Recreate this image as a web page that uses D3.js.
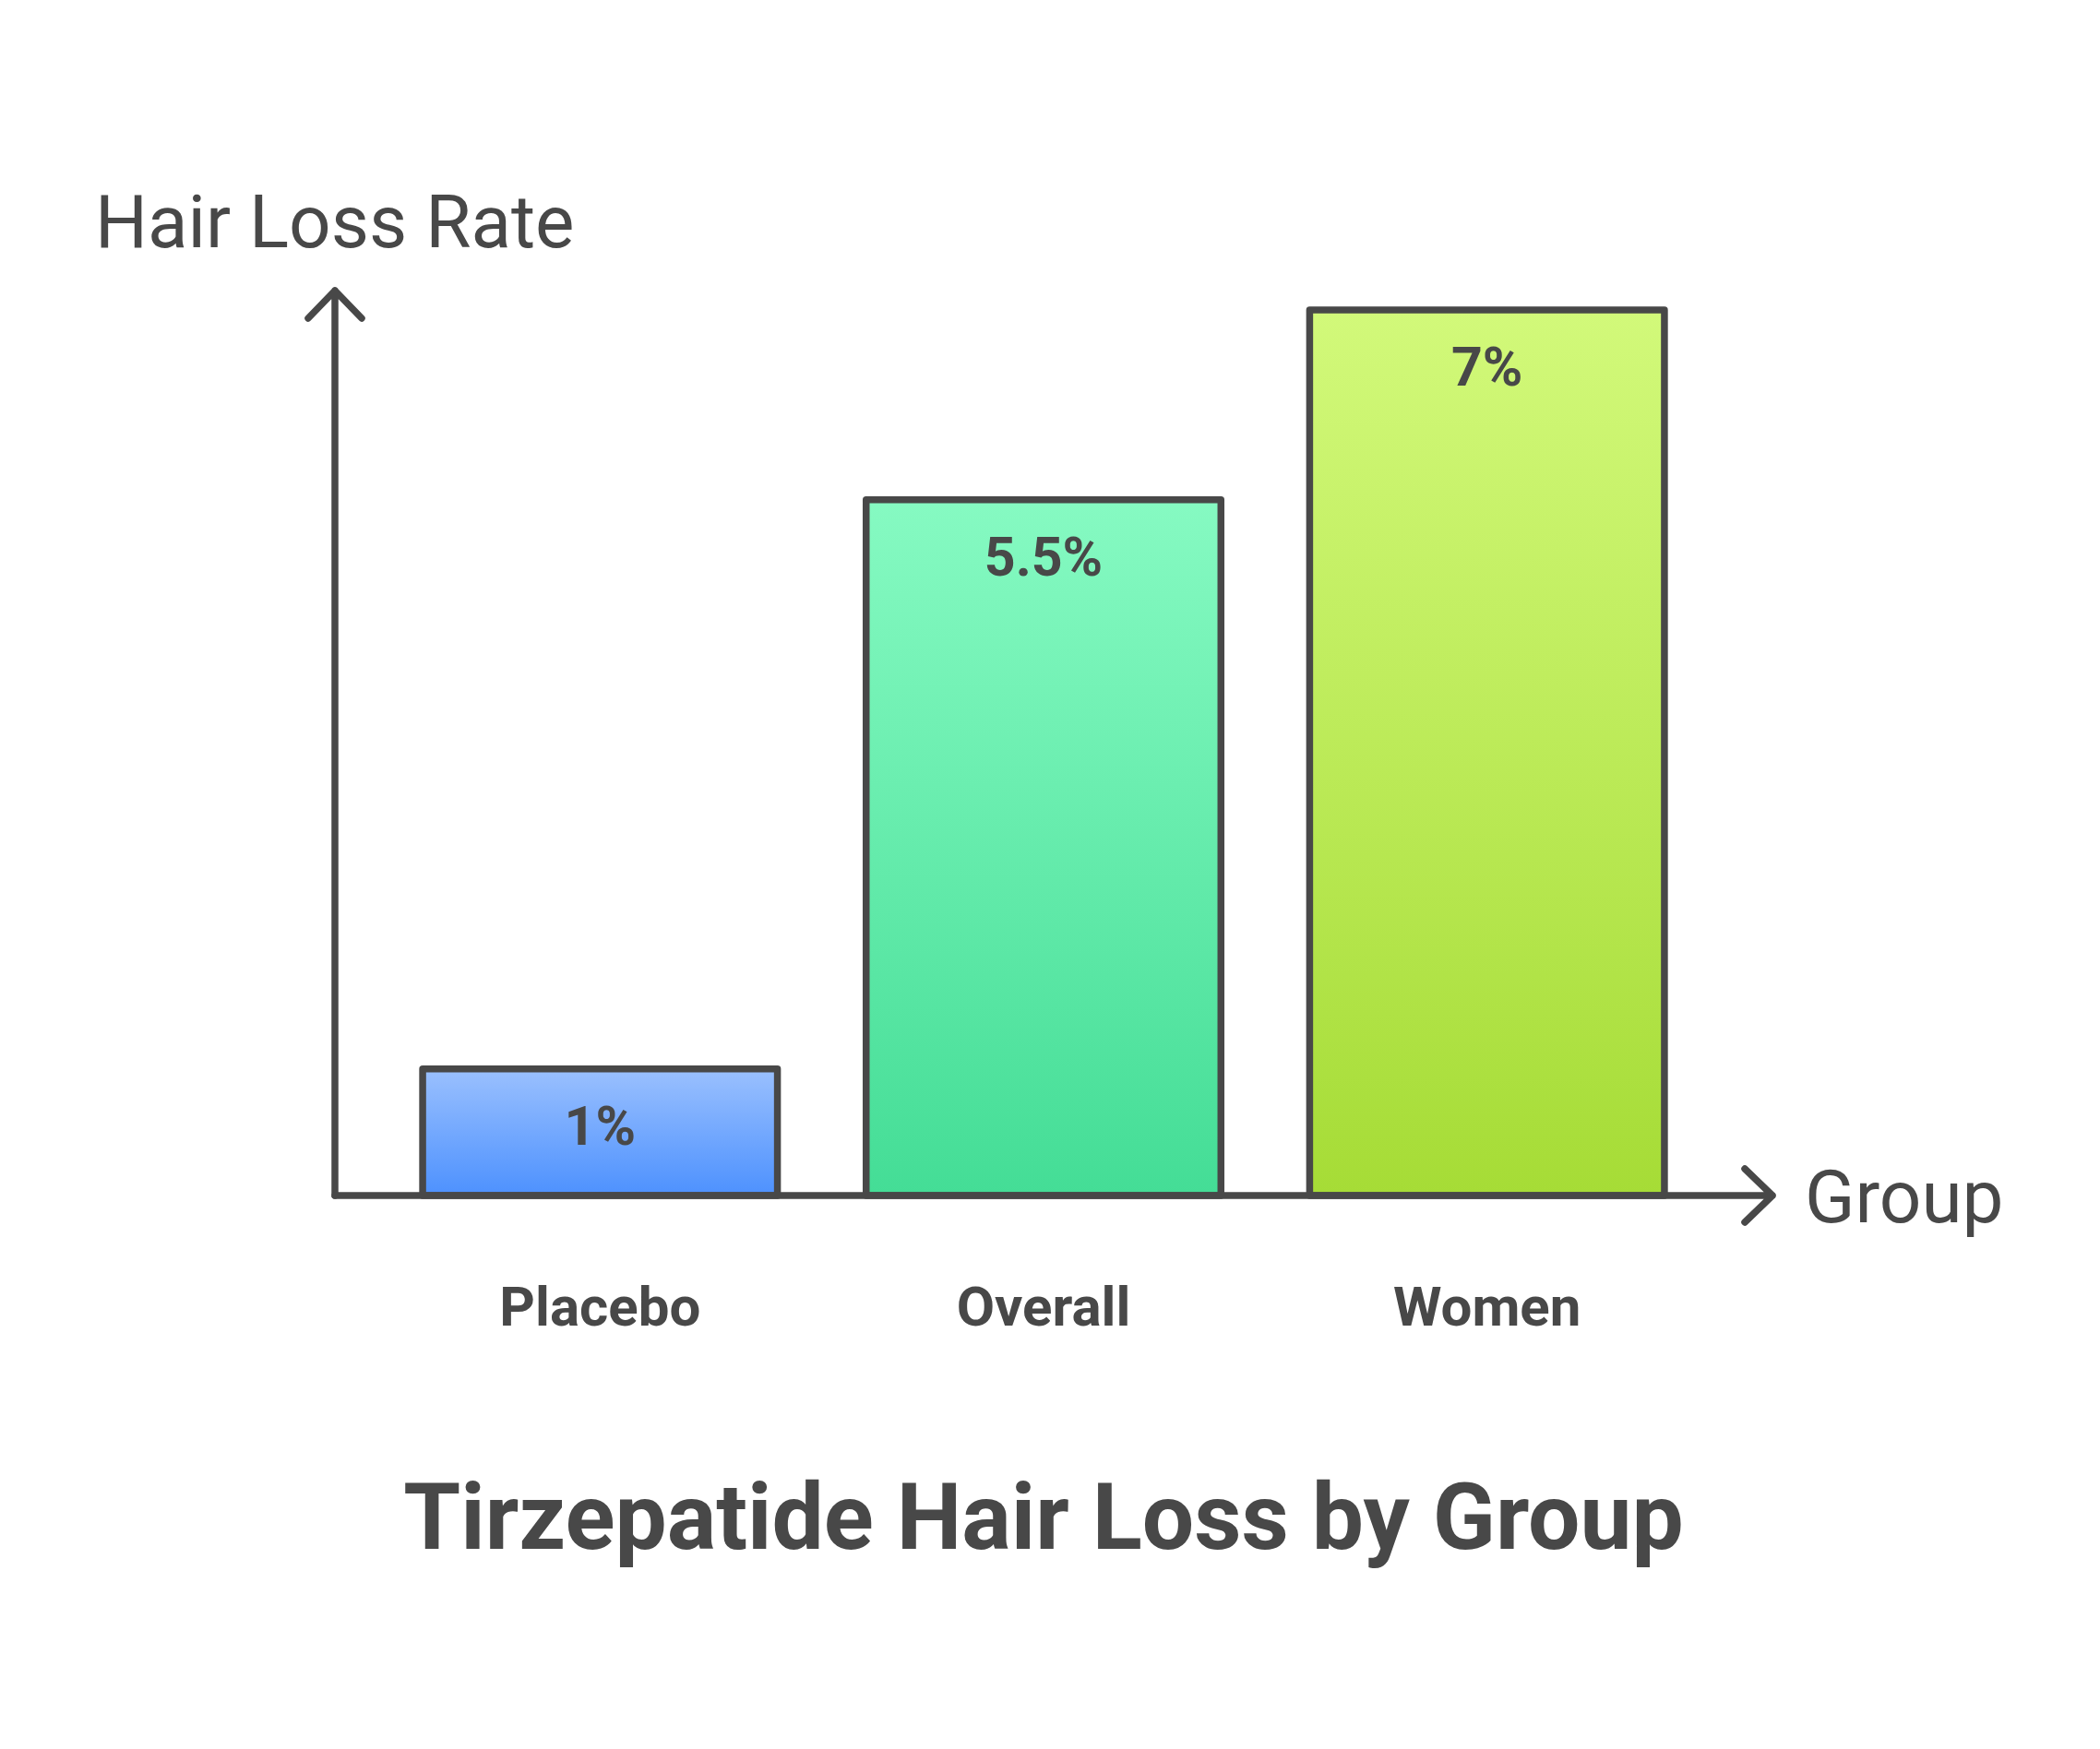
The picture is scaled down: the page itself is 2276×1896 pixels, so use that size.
<!DOCTYPE html>
<html>
<head>
<meta charset="utf-8">
<script src="https://cdn.jsdelivr.net/npm/d3@7"></script>
<style>
  html, body { margin: 0; padding: 0; background: #fff; }
  svg { display: block; font-family: Roboto, "Noto Sans", sans-serif; }
</style>
</head>
<body>
<svg id="chart" width="2276" height="1896"></svg>
<script>
const groups = ['Placebo', 'Overall', 'Women'];
const rates = [1, 5.5, 7];
const rateLabels = ['1%', '5.5%', '7%'];
const topColors = ['#9ac0fe', '#86fac2', '#d2f97a'];
const bottomColors = ['#4d91fe', '#44dd96', '#a6dc36'];

(() => {
  const W = 2276, H = 1896;
  const ink = '#484848';
  const svg = d3.select('#chart').attr('viewBox', `0 0 ${W} ${H}`);

  const originX = 363, originY = 1296;
  const axisTop = 315, axisRight = 1921;

  const x = d3.scaleBand()
    .domain(groups)
    .range([410, 1852])
    .paddingInner(0.2)
    .paddingOuter(0.1);

  const y = d3.scaleLinear()
    .domain([0, 7])
    .range([originY, 336]);

  const rows = groups.map((g, i) => ({ g, v: rates[i], label: rateLabels[i], i }));

  const defs = svg.append('defs');
  rows.forEach(d => {
    const grad = defs.append('linearGradient')
      .attr('id', `grad${d.i}`)
      .attr('x1', 0).attr('y1', 0).attr('x2', 0).attr('y2', 1);
    grad.append('stop').attr('offset', '0%').attr('stop-color', topColors[d.i]);
    grad.append('stop').attr('offset', '100%').attr('stop-color', bottomColors[d.i]);
  });

  // bars
  svg.append('g')
    .selectAll('rect')
    .data(rows)
    .join('rect')
    .attr('x', d => x(d.g))
    .attr('y', d => y(d.v))
    .attr('width', x.bandwidth())
    .attr('height', d => y(0) - y(d.v))
    .attr('fill', d => `url(#grad${d.i})`)
    .attr('stroke', ink)
    .attr('stroke-width', 7.5)
    .attr('stroke-linejoin', 'round');

  // value labels inside the bars
  svg.append('g')
    .selectAll('text')
    .data(rows)
    .join('text')
    .attr('x', d => x(d.g) + x.bandwidth() / 2)
    .attr('y', d => y(d.v) + 82)
    .attr('text-anchor', 'middle')
    .attr('font-size', 59)
    .attr('font-weight', 700)
    .attr('fill', ink)
    .text(d => d.label);

  // category labels
  svg.append('g')
    .selectAll('text')
    .data(rows)
    .join('text')
    .attr('x', d => x(d.g) + x.bandwidth() / 2)
    .attr('y', 1437)
    .attr('text-anchor', 'middle')
    .attr('font-size', 60)
    .attr('font-weight', 700)
    .attr('fill', ink)
    .text(d => d.g);

  // axes with open arrowheads
  const axes = svg.append('g')
    .attr('fill', 'none')
    .attr('stroke', ink)
    .attr('stroke-width', 7.5)
    .attr('stroke-linecap', 'round')
    .attr('stroke-linejoin', 'round');

  axes.append('path')
    .attr('d', `M${originX},${originY}V${axisTop}M${originX - 29},${axisTop + 30}L${originX},${axisTop}L${originX + 29},${axisTop + 30}`);
  axes.append('path')
    .attr('d', `M${originX},${originY}H${axisRight}M${axisRight - 30},${originY - 29}L${axisRight},${originY}L${axisRight - 30},${originY + 29}`);

  svg.append('text')
    .attr('x', 103)
    .attr('y', 268)
    .attr('font-size', 80)
    .attr('fill', ink)
    .text('Hair Loss Rate');

  svg.append('text')
    .attr('x', 1956)
    .attr('y', 1325)
    .attr('font-size', 80)
    .attr('fill', ink)
    .text('Group');

  svg.append('text')
    .attr('x', 1131)
    .attr('y', 1679)
    .attr('text-anchor', 'middle')
    .attr('font-size', 100)
    .attr('font-weight', 700)
    .attr('fill', ink)
    .text('Tirzepatide Hair Loss by Group');
})();
</script>
</body>
</html>
